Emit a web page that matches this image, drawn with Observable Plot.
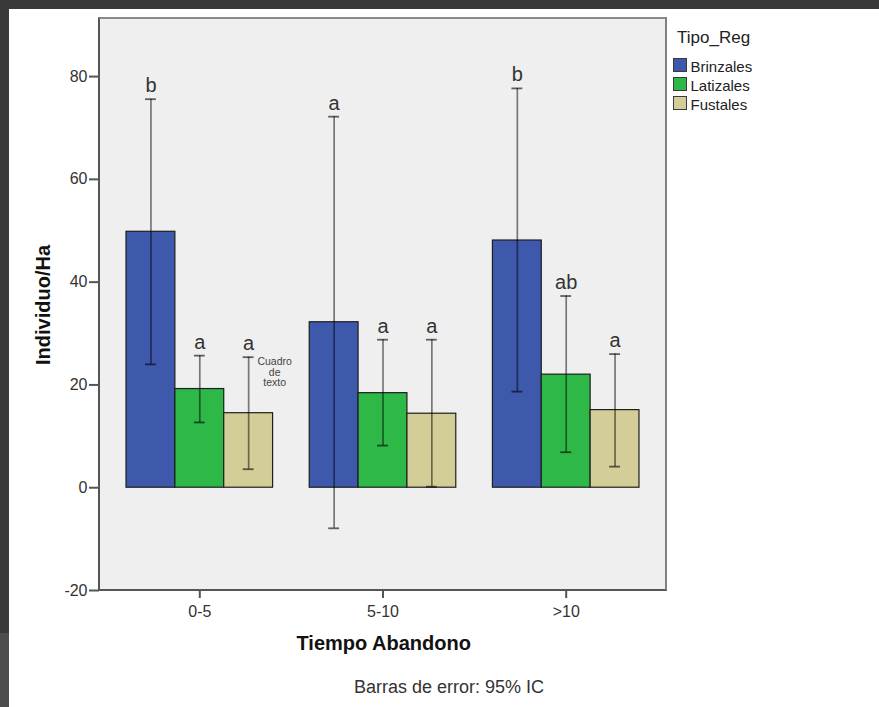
<!DOCTYPE html>
<html>
<head>
<meta charset="utf-8">
<script src="https://cdn.jsdelivr.net/npm/d3@7"></script>
<script src="https://cdn.jsdelivr.net/npm/@observablehq/plot@0.6"></script>
<style>
  html, body { margin: 0; padding: 0; background: #fff; }
  body { width: 879px; height: 707px; position: relative; overflow: hidden; font-family: "Liberation Sans", Arial, sans-serif; }
  .abs { position: absolute; white-space: nowrap; }
  #frameTop { left: 0; top: 0; width: 879px; height: 9px; background: #393939; }
  #frameLeft { left: 0; top: 0; width: 9px; height: 633px; background: #393939; }
  #frameLeft2 { left: 0; top: 633px; width: 9px; height: 74px; background: #4d4d4d; }
  #panel { left: 98px; top: 17px; width: 569px; height: 574px; box-sizing: border-box; background: #efefef;
           border-top: 2px solid #8a8a8a; border-right: 2px solid #808080; border-left: 2px solid #555; border-bottom: 2px solid #555; }
  #chart { left: 0; top: 0; }
  #ytitle { left: 42.5px; top: 305px; font-size: 20px; line-height: 20px; font-weight: bold; color: #111;
            transform: translate(-50%, -50%) rotate(-90deg); }
  #xtitle { left: 383.7px; top: 633px; font-size: 20px; line-height: 20px; font-weight: bold; color: #111; transform: translateX(-50%); }
  #caption { left: 354px; top: 677.5px; font-size: 18px; line-height: 18px; color: #333; }
  #legendTitle { left: 677px; top: 28.6px; font-size: 17px; line-height: 17px; color: #222; }
  .sw { width: 14px; height: 14px; box-sizing: border-box; border: 1.5px solid #3a3a3a; }
  .lt { font-size: 15px; line-height: 15px; color: #222; }
</style>
</head>
<body>
<div id="frameTop" class="abs"></div>
<div id="frameLeft" class="abs"></div>
<div id="frameLeft2" class="abs"></div>
<div id="panel" class="abs"></div>
<div id="chart" class="abs"></div>
<div id="ytitle" class="abs">Individuo/Ha</div>
<div id="xtitle" class="abs">Tiempo Abandono</div>
<div id="caption" class="abs">Barras de error: 95% IC</div>
<div id="legendTitle" class="abs">Tipo_Reg</div>
<div id="legend"></div>
<script>
// ---- data ----
const groups = ["0-5", "5-10", ">10"];
const series = ["Brinzales", "Latizales", "Fustales"];
const colors = ["#3E58AC", "#2EB848", "#D3CE97"];

const brinzalesMean = [49.8, 32.2, 48.1];
const latizalesMean = [19.2, 18.4, 22.0];
const fustalesMean  = [14.5, 14.4, 15.1];

const brinzalesLow  = [24.0, -7.9, 18.7];
const latizalesLow  = [12.7, 8.2, 6.9];
const fustalesLow   = [3.6, 0.2, 4.1];

const brinzalesHigh = [75.6, 72.2, 77.7];
const latizalesHigh = [25.7, 28.8, 37.3];
const fustalesHigh  = [25.4, 28.8, 26.0];

const brinzalesLetter = ["b", "a", "b"];
const latizalesLetter = ["a", "a", "ab"];
const fustalesLetter  = ["a", "a", "a"];

const yTicks = [-20, 0, 20, 40, 60, 80];
const yDomain = [-20, 91.3];

const noteGroup = ["0-5"];
const noteSeries = ["Fustales"];
const noteY = [22.5];
const noteText = ["Cuadro\nde\ntexto"];

// ---- build table ----
const means = [brinzalesMean, latizalesMean, fustalesMean];
const lows = [brinzalesLow, latizalesLow, fustalesLow];
const highs = [brinzalesHigh, latizalesHigh, fustalesHigh];
const letters = [brinzalesLetter, latizalesLetter, fustalesLetter];
const data = groups.flatMap((g, i) => series.map((s, j) => ({
  group: g, series: s, mean: means[j][i], lo: lows[j][i], hi: highs[j][i], letter: letters[j][i]
})));
const notes = noteText.map((t, i) => ({group: noteGroup[i], series: noteSeries[i], y: noteY[i], text: t}));

const W = 879, H = 707, ML = 99, MR = 213, PAD_IN = 0.2, PAD_OUT = 0.1475;
const fxStep = (W - ML - MR) / (groups.length - PAD_IN + 2 * PAD_OUT);
const axisShift = -PAD_OUT * fxStep; // move y axis from the first facet to the frame edge

const chart = Plot.plot({
  width: W,
  height: H,
  marginTop: 18,
  marginBottom: 117,
  marginLeft: ML,
  marginRight: MR,
  style: {background: "transparent", fontFamily: "Liberation Sans, Arial, sans-serif", overflow: "visible"},
  fx: {domain: groups, paddingInner: PAD_IN, paddingOuter: PAD_OUT, label: null, round: false},
  x: {domain: series, padding: 0, axis: null, round: false},
  y: {domain: yDomain, axis: null},
  color: {domain: series, range: colors},
  marks: [
    Plot.axisY({ticks: yTicks, tickSize: 10, tickPadding: 2, fontSize: 16, label: null, dx: axisShift,
                stroke: "#555", strokeWidth: 2, fill: "#333", tickFormat: d => String(d)}),
    Plot.axisFx({anchor: "bottom", tickSize: 8, tickPadding: 7, fontSize: 16, label: null,
                 stroke: "#555", strokeWidth: 2, fill: "#333"}),
    Plot.barY(data, {fx: "group", x: "series", y: "mean", fill: "series", stroke: "#1e1e1e", strokeWidth: 1.2}),
    Plot.ruleX(data, {fx: "group", x: "series", y1: "lo", y2: "hi", stroke: "#000", strokeOpacity: 0.5, strokeWidth: 1.7}),
    Plot.tickY(data, {fx: "group", x: "series", y: "hi", inset: 19, stroke: "#000", strokeOpacity: 0.6, strokeWidth: 1.8}),
    Plot.tickY(data, {fx: "group", x: "series", y: "lo", inset: 19, stroke: "#000", strokeOpacity: 0.6, strokeWidth: 1.8}),
    Plot.text(data, {fx: "group", x: "series", y: "hi", text: "letter", dy: -13.5, fontSize: 20, fill: "#333"}),
    Plot.text(notes, {fx: "group", x: "series", y: "y", text: "text", dx: 26, fontSize: 10.5, lineHeight: 1.02, fill: "#444"})
  ]
});
document.getElementById("chart").appendChild(chart);

// ---- legend (HTML) ----
const legend = document.getElementById("legend");
series.forEach((s, i) => {
  const sw = document.createElement("div");
  sw.className = "abs sw";
  sw.style.left = "673px";
  sw.style.top = (58 + i * 19) + "px";
  sw.style.background = colors[i];
  legend.appendChild(sw);
  const t = document.createElement("div");
  t.className = "abs lt";
  t.style.left = "690.5px";
  t.style.top = (59 + i * 19) + "px";
  t.textContent = s;
  legend.appendChild(t);
});
</script>
</body>
</html>
